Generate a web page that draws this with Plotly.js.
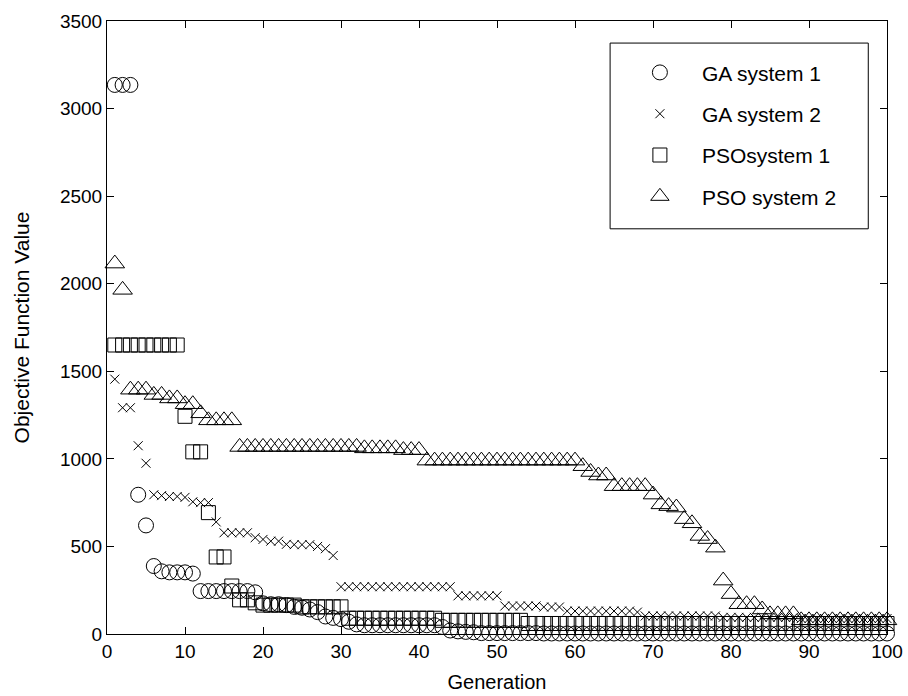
<!DOCTYPE html>
<html>
<head>
<meta charset="utf-8">
<script src="https://cdn.plot.ly/plotly-3.0.1.min.js"></script>
<style>html,body{margin:0;padding:0;background:#fff;}#chart{width:908px;height:696px;}</style>
</head>
<body>
<div id="chart"></div>
<script>
const generation = [1,2,3,4,5,6,7,8,9,10,11,12,13,14,15,16,17,18,19,20,21,22,23,24,25,26,27,28,29,30,31,32,33,34,35,36,37,38,39,40,41,42,43,44,45,46,47,48,49,50,51,52,53,54,55,56,57,58,59,60,61,62,63,64,65,66,67,68,69,70,71,72,73,74,75,76,77,78,79,80,81,82,83,84,85,86,87,88,89,90,91,92,93,94,95,96,97,98,99,100];

const gaSystem1 = [3135,3135,3135,795,620,388,358,352,352,352,
  345,245,245,245,245,245,245,245,238,175,
  170,170,165,155,150,140,125,100,92,85,
  70,55,50,50,50,50,50,50,50,50,
  50,50,40,20,15,12,10,5,5,5,
  5,5,5,5,5,3,3,3,3,3,
  3,3,3,3,3,3,3,3,3,3,
  3,3,3,3,3,3,3,3,3,3,
  3,3,3,3,3,3,3,3,3,3,
  3,3,3,3,3,3,3,3,3,3];

const gaSystem2 = [1455,1292,1292,1075,975,795,790,785,785,780,
  755,750,750,640,578,578,578,578,550,540,
  530,530,512,510,510,510,500,487,448,270,
  270,270,270,270,270,270,270,270,270,270,
  270,270,270,270,218,218,218,218,218,218,
  160,160,160,160,160,154,154,154,131,131,
  131,131,131,131,131,131,131,125,103,103,
  103,103,103,103,103,103,103,103,95,95,
  95,95,95,95,95,95,95,95,88,88,
  88,88,88,88,88,88,88,88,88,88];

const psoSystem1 = [1650,1650,1650,1650,1650,1650,1650,1650,1650,1243,
  1040,1040,693,440,440,274,195,195,178,165,
  165,165,165,165,155,155,155,155,155,155,
  90,90,90,90,90,90,90,90,90,90,
  90,90,78,78,78,78,78,78,78,78,
  78,78,78,60,60,60,60,60,60,60,
  60,60,60,60,60,60,60,60,60,60,
  60,60,60,60,60,60,60,60,60,60,
  60,60,60,60,60,60,60,60,60,60,
  60,60,60,60,60,60,60,60,60,60];

const psoSystem2 = [2115,1965,1395,1395,1395,1365,1365,1345,1345,1312,
  1312,1260,1220,1220,1220,1220,1068,1068,1068,1068,
  1068,1068,1068,1068,1068,1068,1068,1068,1068,1068,
  1068,1068,1060,1060,1060,1060,1060,1050,1050,1050,
  990,990,990,990,990,990,990,990,990,990,
  990,990,990,990,990,990,990,990,990,990,
  958,925,905,905,844,844,844,844,844,796,
  740,730,722,656,632,560,542,493,305,228,
  170,170,170,140,112,112,112,112,78,78,
  78,78,78,78,78,78,78,78,78,78];

const seriesNames = ['GA system 1','GA system 2','PSOsystem 1','PSO system 2'];

const FONT = 'Liberation Sans, Arial, sans-serif';

function mk(y, name, symbol, size, grp) {
  return {
    x: generation, y: y, name: name, type: 'scatter', mode: 'markers',
    legendgroup: grp,
    marker: {symbol: symbol, size: size, color: 'black', line: {width: 1, color: 'black'}},
    cliponaxis: false
  };
}

const traces = [
  mk(gaSystem1, seriesNames[0], 'circle-open', 15, 'a'),
  mk(gaSystem2, seriesNames[1], 'x-thin-open', 9, 'b'),
  mk(psoSystem1, seriesNames[2], 'square-open', 14, 'c'),
  mk(psoSystem2, seriesNames[3], 'triangle-up-open', 17, 'd')
];

const axisCommon = {
  showline: true, linecolor: 'black', linewidth: 1, mirror: 'ticks',
  ticks: 'inside', ticklen: 7, tickcolor: 'black', tickwidth: 1,
  showgrid: false, zeroline: false,
  tickfont: {family: FONT, size: 19, color: 'black'}
};

const layout = {
  width: 908, height: 696,
  margin: {l: 107, r: 21, t: 21, b: 62},
  paper_bgcolor: 'white', plot_bgcolor: 'white',
  font: {family: FONT, size: 19, color: 'black'},
  xaxis: Object.assign({}, axisCommon, {
    range: [0, 100], dtick: 10, tick0: 0,
    title: {text: 'Generation', font: {family: FONT, size: 20, color: 'black'}, standoff: 14}
  }),
  yaxis: Object.assign({}, axisCommon, {
    range: [0, 3500], dtick: 500, tick0: 0,
    title: {text: 'Objective Function Value', font: {family: FONT, size: 21, color: 'black'}, standoff: 24}
  }),
  shapes: [{
    type: 'rect', xref: 'paper', yref: 'paper',
    x0: 0.645, x1: 0.976, y0: 0.661, y1: 0.964,
    line: {color: 'black', width: 1}, fillcolor: 'white', layer: 'below'
  }],
  showlegend: true,
  legend: {
    x: 0.655, y: 0.949, xanchor: 'left', yanchor: 'top',
    borderwidth: 0, bgcolor: 'rgba(0,0,0,0)',
    font: {family: FONT, size: 21, color: 'black'},
    traceorder: 'grouped', tracegroupgap: 11, itemwidth: 74
  }
};

Plotly.newPlot('chart', traces, layout, {displayModeBar: false, staticPlot: true});
</script>
</body>
</html>
